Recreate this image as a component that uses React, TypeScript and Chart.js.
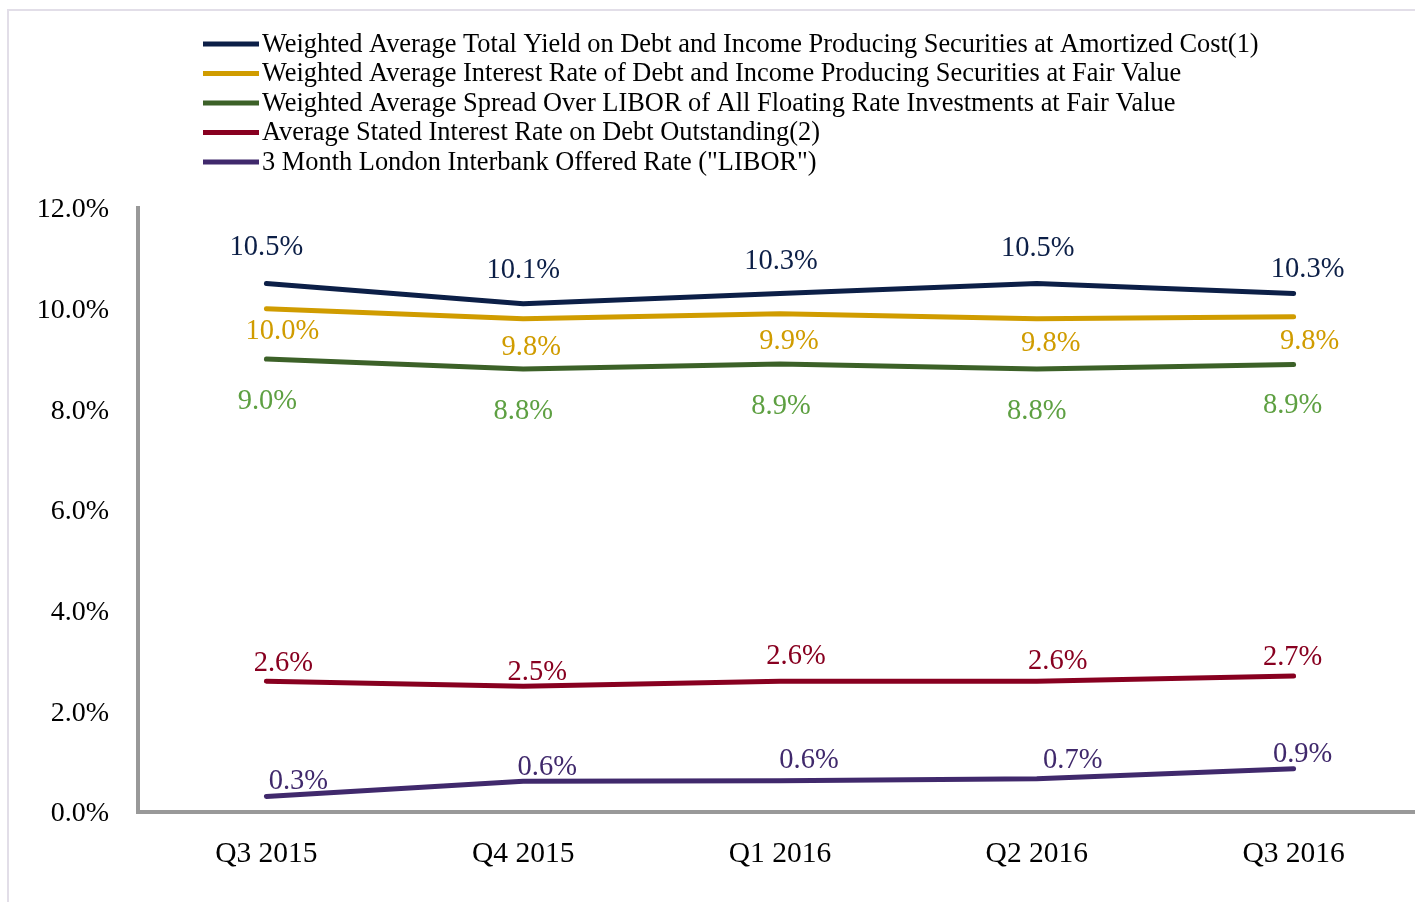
import React, { useEffect, useRef } from "react";
import { Chart, registerables } from "chart.js";

Chart.register(...registerables);

// ---- Data ----
const categories = ["Q3 2015", "Q4 2015", "Q1 2016", "Q2 2016", "Q3 2016"];
const seriesNames = [
  "Weighted Average Total Yield on Debt and Income Producing Securities at Amortized Cost(1)",
  "Weighted Average Interest Rate of Debt and Income Producing Securities at Fair Value",
  "Weighted Average Spread Over LIBOR of All Floating Rate Investments at Fair Value",
  "Average Stated Interest Rate on Debt Outstanding(2)",
  '3 Month London Interbank Offered Rate ("LIBOR")',
];
const totalYield = [10.5, 10.1, 10.3, 10.5, 10.3];
const interestRate = [10.0, 9.8, 9.9, 9.8, 9.84];
const spreadOverLibor = [9.0, 8.8, 8.9, 8.8, 8.89];
const debtRate = [2.6, 2.5, 2.6, 2.6, 2.7];
const libor = [0.31, 0.61, 0.62, 0.66, 0.86];
const yTickValues = [0, 2, 4, 6, 8, 10, 12];

// ---- Styles ----
const FONT = "'Liberation Serif', 'Times New Roman', serif";
const lineColors = ["#0c1f47", "#d09c00", "#3c6128", "#880020", "#40296c"];
const labelColors = ["#0c1f47", "#d09c00", "#5ea042", "#880020", "#40296c"];
const LABEL_Y_SHIFT = 2.5;
// data-label placement (pixel nudges relative to each point), per series
const labelNudges = [
  [[0, -38], [0, -36], [1, -35], [1, -37], [14, -27]],
  [[16, 20], [8, 26], [9, 25], [14, 22], [16, 22]],
  [[1, 40], [0, 40], [1, 40], [0, 40], [-1, 38]],
  [[17, -20], [14, -16], [16, -27], [21, -22], [-1, -21]],
  [[32, -17], [24, -16], [29, -23], [36, -21], [9, -17]],
];

const legendPlugin = {
  id: "customLegend",
  afterDraw(chart: any) {
    const ctx = chart.ctx;
    ctx.save();
    chart.data.datasets.forEach((ds: any, i: number) => {
      const y = 44 + i * 29.5;
      ctx.strokeStyle = ds.borderColor;
      ctx.lineWidth = 5;
      ctx.lineCap = "butt";
      ctx.beginPath();
      ctx.moveTo(203, y);
      ctx.lineTo(259, y);
      ctx.stroke();
      ctx.fillStyle = "#000";
      ctx.font = `26.4px ${FONT}`;
      ctx.textBaseline = "middle";
      ctx.textAlign = "left";
      ctx.fillText(ds.label, 262, y + 1);
    });
    ctx.restore();
  },
};

const dataLabelPlugin = {
  id: "pointLabels",
  afterDatasetsDraw(chart: any) {
    const ctx = chart.ctx;
    ctx.save();
    ctx.font = `28.5px ${FONT}`;
    ctx.textAlign = "center";
    ctx.textBaseline = "middle";
    chart.data.datasets.forEach((ds: any, i: number) => {
      const meta = chart.getDatasetMeta(i);
      ctx.fillStyle = labelColors[i];
      meta.data.forEach((pt: any, j: number) => {
        const v = ds.data[j] as number;
        const [dx, dy] = labelNudges[i][j];
        ctx.fillText(v.toFixed(1) + "%", pt.x + dx, pt.y + dy + LABEL_Y_SHIFT);
      });
    });
    ctx.restore();
  },
};

export default function App() {
  const canvasRef = useRef<HTMLCanvasElement | null>(null);

  useEffect(() => {
    if (!canvasRef.current) return;
    const seriesData = [totalYield, interestRate, spreadOverLibor, debtRate, libor];
    const chart = new Chart(canvasRef.current, {
      type: "line",
      data: {
        labels: categories,
        datasets: seriesData.map((d, i) => ({
          label: seriesNames[i],
          data: d,
          borderColor: lineColors[i],
          backgroundColor: lineColors[i],
          borderWidth: 5,
          pointRadius: 0,
          pointHoverRadius: 0,
          tension: 0,
          fill: false,
          borderCapStyle: "round",
          borderJoinStyle: "round",
        })),
      },
      options: {
        responsive: false,
        animation: false,
        devicePixelRatio: 1,
        layout: { padding: { top: 208, left: 0, right: 18, bottom: 20 } },
        plugins: {
          legend: { display: false },
          tooltip: { enabled: false },
        },
        scales: {
          x: {
            type: "category",
            offset: true,
            grid: { display: true, drawOnChartArea: false, drawTicks: false, color: "rgba(0,0,0,0)" },
            border: { display: true, color: "#999999", width: 4 },
            ticks: {
              color: "#000",
              font: { family: FONT, size: 29.5 },
              padding: 25,
              maxRotation: 0,
            },
            afterFit: (scale: any) => {
              scale.height = 70;
            },
          },
          y: {
            min: 0,
            max: 12,
            afterBuildTicks: (scale: any) => {
              scale.ticks = yTickValues.map((v) => ({ value: v }));
            },
            grid: { display: true, drawOnChartArea: false, drawTicks: false, color: "rgba(0,0,0,0)" },
            border: { display: true, color: "#999999", width: 4 },
            ticks: {
              color: "#000",
              font: { family: FONT, size: 28 },
              padding: 29,
              labelOffset: 2,
              callback: (v: any) => Number(v).toFixed(1) + "%",
            },
            afterFit: (scale: any) => {
              scale.width = 138;
            },
          },
        },
      },
      plugins: [legendPlugin, dataLabelPlugin],
    });
    return () => chart.destroy();
  }, []);

  return (
    <div
      style={{
        position: "absolute",
        left: 0,
        top: 0,
        width: 1415,
        height: 902,
        overflow: "hidden",
        background: "#fff",
      }}
    >
      <div
        style={{
          position: "absolute",
          left: 7,
          top: 9,
          width: 1500,
          height: 1000,
          border: "2px solid #e2dee8",
          boxSizing: "border-box",
        }}
      />
      <canvas
        ref={canvasRef}
        width={1440}
        height={902}
        style={{ position: "absolute", left: 0, top: 0, width: 1440, height: 902 }}
      />
    </div>
  );
}
